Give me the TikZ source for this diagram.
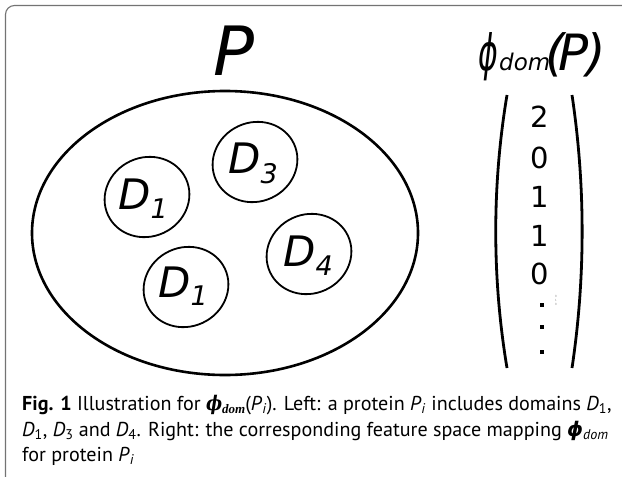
\documentclass[tikz,border=0pt]{standalone}
\usepackage{fontspec}
\setmainfont{PT Sans}
\newfontfamily\dejavu{DejaVu Sans}
\newfontfamily\dejavuserif{DejaVu Serif}
\newfontfamily\libserif{Liberation Serif}
\usetikzlibrary{shapes.geometric}
\begin{document}
\begin{tikzpicture}[x=1pt,y=-1pt,
  frameline/.style={draw=black!55, line width=1.1pt, rounded corners=9pt},
  bigell/.style={draw, ellipse, line width=2.6pt, inner sep=0pt},
  domell/.style={draw, ellipse, line width=1.8pt, inner sep=0pt, minimum width=86pt, minimum height=79pt, rotate=25},
  dlab/.style={anchor=base west, inner sep=0pt, font=\dejavu\itshape\fontsize{42}{42}\selectfont},
  ttl/.style={anchor=base, inner sep=0pt, font=\dejavu\itshape\fontsize{50}{50}\selectfont},
  digit/.style={inner sep=0pt, font=\dejavu\fontsize{29}{29}\selectfont},
  vdot/.style={fill, inner sep=0pt, minimum size=4pt},
  paren/.style={line width=2.8pt},
  captxt/.style={anchor=base west, inner sep=0pt, font=\fontsize{20.1}{24}\selectfont}
]
\useasboundingbox (0,0) rectangle (622,477);
\clip (0,0) rectangle (622,477);
\fill[white] (0,0) rectangle (622,477);
\draw[frameline] (5.5,500) -- (5.5,5.5) -- (640,5.5);

% left: protein
\node[ttl, font=\dejavu\itshape\fontsize{68}{68}\selectfont] (P) at (234,75) {P};
\node[bigell, minimum width=386pt, minimum height=284pt] (prot) at (225,233) {};

\node[domell] (e1) at (147,197) {};
\node[domell] (e3) at (255,162) {};
\node[domell] (e2) at (186,287) {};
\node[domell] (e4) at (309,254) {};

\newcommand{\dsub}[2]{D\raisebox{#2}{\fontsize{27}{27}\selectfont #1}}
\node[dlab] (l1) at (118,209) {\dsub{1}{-9pt}};
\node[dlab] (l3) at (228,173) {\dsub{3}{-10pt}};
\node[dlab] (l2) at (158,297) {\dsub{1}{-8pt}};
\node[dlab] (l4) at (283,266) {\dsub{4}{-9pt}};

% right: feature vector
\node[ttl] (phi) at (488,70) {\scalebox{0.6}[1]{ϕ}};
\node[anchor=base west, inner sep=0pt, font=\dejavu\itshape\fontsize{23}{23}\selectfont] (dom) at (499,70) {dom};
\node[ttl] (lp) at (555,70) {(};
\node[ttl] (pp) at (574,70) {P};
\node[ttl] (rp) at (596,70) {)};

\draw[paren] (507,95) .. controls (492,185) and (492,278) .. (507,368);
\draw[paren] (572,95) .. controls (585.5,185) and (585.5,278) .. (572,368);

\node[digit] (v1) at (540,117) {2};
\node[digit] (v2) at (540,158) {0};
\node[digit] (v3) at (540,197) {1};
\node[digit] (v4) at (540,236) {1};
\node[digit] (v5) at (540,274) {0};
\node[vdot] (d1) at (542,305) {};
\node[vdot] (d2) at (542,327) {};
\node[vdot] (d3) at (542,352) {};
\node[inner sep=0pt, text=black!50, font=\fontsize{3}{4}\selectfont, align=center] (tiny) at (556,300) {0\\1\\0};

% caption
\node[captxt] (c1) at (22,410) {\textbf{Fig. 1} Illustration for {\dejavuserif\bfseries\itshape\scalebox{0.85}[1]{ϕ}}\raisebox{-3pt}{\libserif\bfseries\itshape\fontsize{13}{13}\selectfont dom}(\textit{P}\textsubscript{\textit{i}}). Left: a protein \textit{P}\textsubscript{\textit{i}} includes domains \textit{D}\textsubscript{1},};
\node[captxt] (c2) at (22,436) {\textit{D}\textsubscript{1}, \textit{D}\textsubscript{3} and \textit{D}\textsubscript{4}. Right: the corresponding feature space mapping {\dejavu\bfseries\itshape ϕ}\textsubscript{\textit{dom}}};
\node[captxt] (c3) at (22,461) {for protein \textit{P}\textsubscript{\textit{i}}};
\end{tikzpicture}
\end{document}
